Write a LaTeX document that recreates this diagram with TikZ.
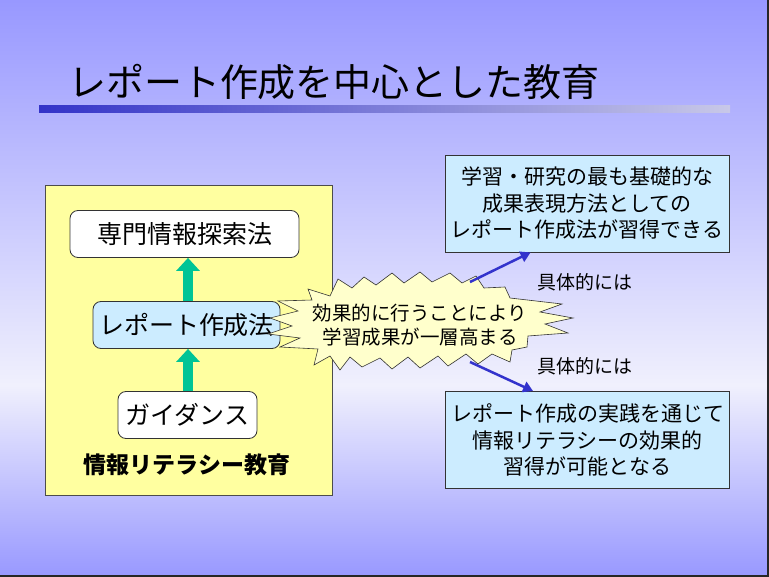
\documentclass[tikz,border=0pt]{standalone}
\usepackage{fontspec}
\setmainfont{Noto Sans CJK JP}
\usetikzlibrary{arrows.meta}
\definecolor{bgtop}{RGB}{152,152,255}
\definecolor{bgmid}{RGB}{240,240,253}
\definecolor{litfill}{RGB}{255,255,160}
\definecolor{boxblue}{RGB}{204,236,255}
\definecolor{burstfill}{RGB}{255,255,204}
\definecolor{arrgreen}{RGB}{0,196,150}
\definecolor{arrblue}{RGB}{51,51,204}
\definecolor{bardark}{RGB}{51,51,200}
\definecolor{barlight}{RGB}{200,200,232}
\begin{document}
\begin{tikzpicture}[x=1pt,y=-1pt,
  rbox/.style={draw=black!80, rounded corners=8pt, line width=0.8pt, inner sep=0pt,
    minimum height=47pt, font=\fontsize{25}{30}\selectfont},
  sqbox/.style={draw=black!80, fill=boxblue, line width=0.8pt, inner sep=0pt,
    minimum width=284pt, minimum height=97pt, align=center,
    font=\fontsize{21}{26.5}\selectfont},
  garrow/.style={draw=arrgreen, line width=10pt, -{Triangle[length=13pt,width=23pt]}},
  barrow/.style={draw=arrblue, line width=2.5pt, -{Triangle[length=10pt,width=11pt]}},
  smalltxt/.style={font=\fontsize{19}{23}\selectfont, inner sep=0pt}]
\useasboundingbox (0,0) rectangle (769,577);
% background
\shade[top color=bgtop,bottom color=bgmid] (0,0) rectangle (769,385);
\shade[top color=bgmid,bottom color=bgtop] (0,385) rectangle (769,577);
\fill[black!85] (767,0) rectangle (769,577);
\fill[black!85] (0,575) rectangle (769,577);
% title
\node[font=\fontsize{38}{44}\selectfont, inner sep=0pt] (title) at (334,82) {レポート作成を中心とした教育};
\shade[left color=bardark, right color=barlight] (39,106) rectangle (730,113);
% left panel
\node[draw=black!70, fill=litfill, line width=0.8pt, minimum width=287pt, minimum height=310pt, inner sep=0pt] (lit) at (188.5,340) {};
\node[rbox, fill=white, minimum width=229pt] (top) at (184.5,234) {専門情報探索法};
\node[rbox, fill=boxblue, minimum width=187pt] (mid) at (186.5,325) {レポート作成法};
\node[rbox, fill=white, minimum width=139pt] (bot) at (187.5,415) {ガイダンス};
\node[font=\bfseries\fontsize{23}{28}\selectfont, inner sep=0pt] (litlbl) at (187,465) {情報リテラシー教育};
\draw[garrow] (mid.north -| 188,0) -- (top.south -| 188,0);
\draw[garrow] (bot.north -| 188,0) -- (mid.south -| 188,0);
% burst
\filldraw[fill=burstfill, draw=black!80, line width=0.6pt]
  (308,289) -- (330,296) -- (338,279) -- (352,288) -- (364,277) -- (376,285) -- (392,273)
  -- (404,283) -- (420,272) -- (432,282) -- (450,273) -- (462,283) -- (476,276) -- (484,288)
  -- (505,287) -- (510,298) -- (562,304) -- (540,312) -- (573,318) -- (545,324) -- (568,333)
  -- (528,336) -- (527,347) -- (512,350) -- (510,362) -- (492,354) -- (478,364) -- (466,354)
  -- (448,366) -- (438,356) -- (420,368) -- (408,357) -- (392,369) -- (380,358) -- (362,367)
  -- (350,357) -- (340,370) -- (330,356) -- (314,365) -- (318,349) -- (280,347) -- (300,338)
  -- (268,334) -- (292,326) -- (270,318) -- (298,311) -- (278,301) -- (312,300) -- cycle;
\node[align=center, font=\fontsize{19.5}{24}\selectfont, inner sep=0pt] (bursttxt) at (420,325)
  {効果的に行うことにより\\学習成果が一層高まる};
% right boxes
\node[sqbox] (rt) at (587,203.5) {学習・研究の最も基礎的な\\成果表現方法としての\\レポート作成法が習得できる};
\node[sqbox] (rb) at (587.5,440) {レポート作成の実践を通じて\\情報リテラシーの効果的\\習得が可能となる};
% connectors
\coordinate (bt) at (470,282);
\coordinate (bb) at (470,362);
\draw[barrow] (bt) -- ([xshift=86pt]rt.south west);
\draw[barrow] (bb) -- ([xshift=88pt]rb.north west);
\node[smalltxt] (lbl1) at (585,282) {具体的には};
\node[smalltxt] (lbl2) at (585,366) {具体的には};
\end{tikzpicture}
\end{document}
